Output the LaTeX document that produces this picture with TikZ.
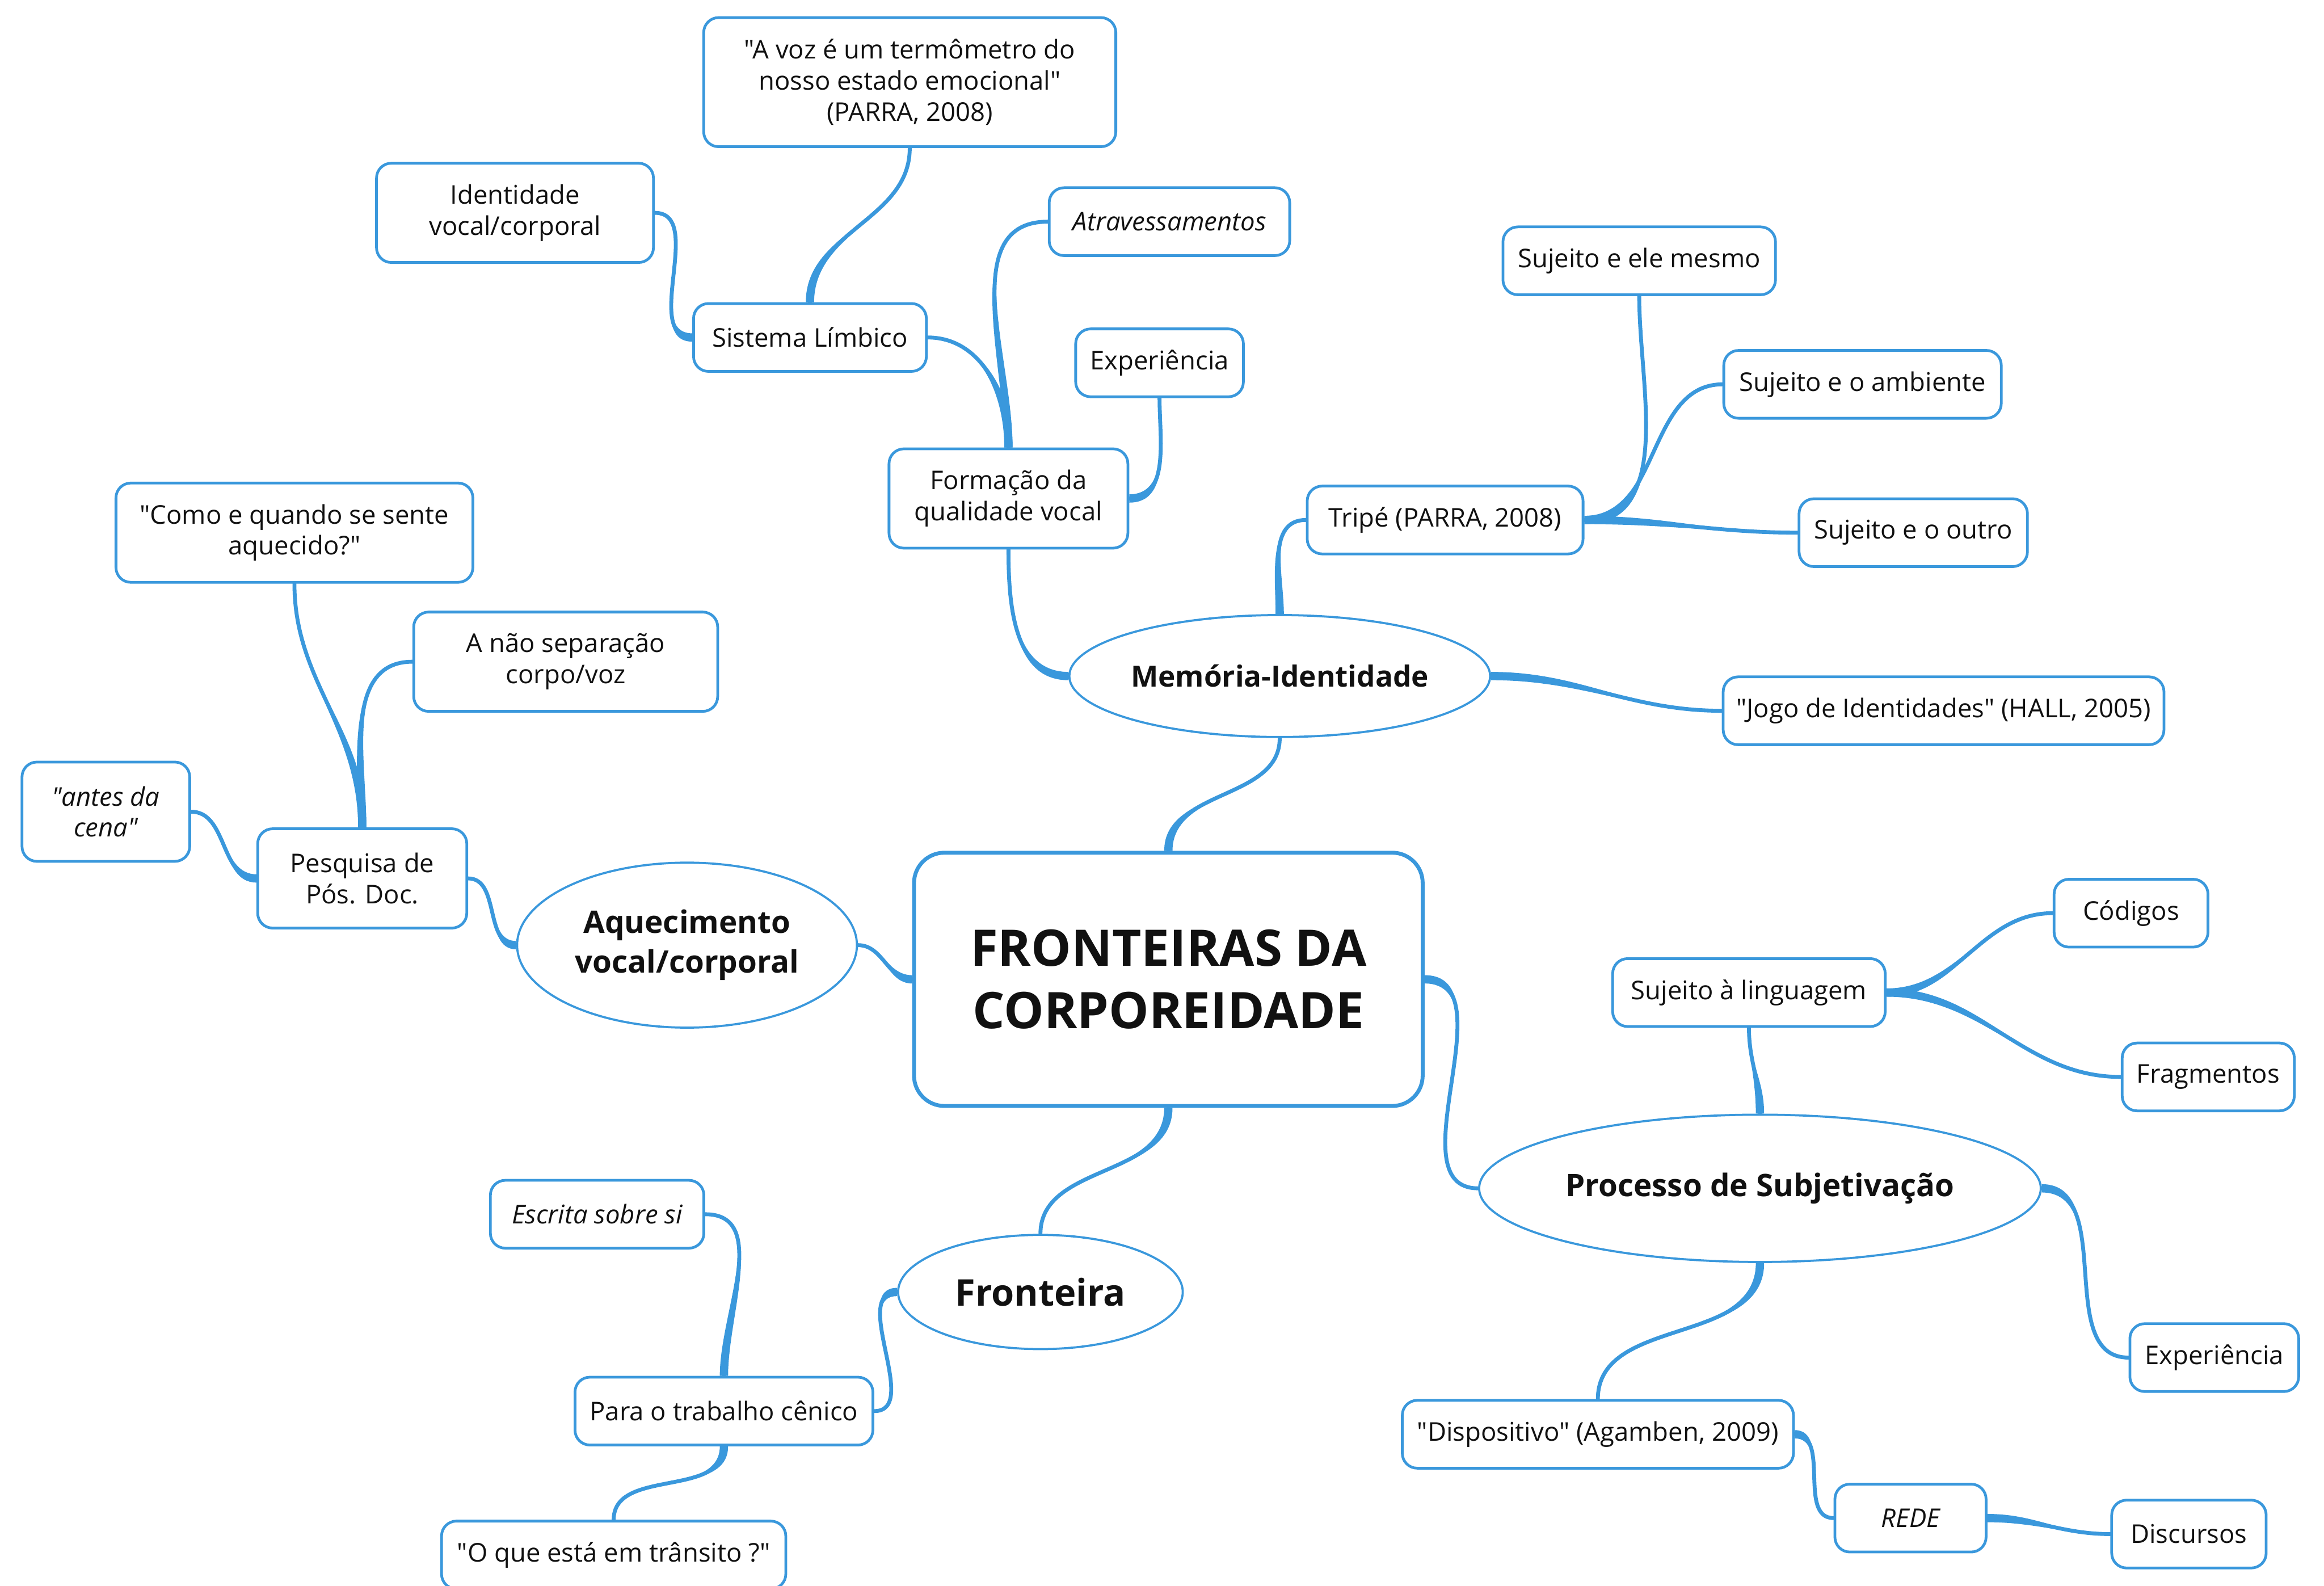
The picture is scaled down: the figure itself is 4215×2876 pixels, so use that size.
\documentclass[tikz,border=0pt]{standalone}
\usepackage{fontspec}
\setmainfont{Open Sans}[Ligatures=TeXOff]
\usepackage{xcolor}
\usepackage{tikz}
\usetikzlibrary{shapes.geometric}
\definecolor{MapBlue}{HTML}{3A98DC}
\definecolor{Ink}{HTML}{111111}

% tapered branch: parent anchor, out angle, in angle, child anchor
\newcommand{\branch}[4]{%
  \fill[MapBlue] ([shift={(#2+90:0.075cm)}]#1) to[out=#2, in=#3] (#4)
    to[out=#3, in=#2] ([shift={(#2-90:0.075cm)}]#1) -- cycle;
  \draw[link] (#1) to[out=#2, in=#3] (#4);
}

\begin{document}
\begin{tikzpicture}[x=0.01cm, y=-0.01cm,
  box/.style={draw=MapBlue, line width=1.4pt, rounded corners=0.27cm, fill=white, align=center, inner sep=0pt, minimum height=1.23cm, font=\fontsize{13.3}{16}\selectfont, text=Ink},
  tall/.style={minimum height=1.80cm},
  topic/.style={ellipse, draw=MapBlue, line width=1.1pt, fill=white, align=center, inner sep=0pt, font=\fontsize{15.5}{20.5}\selectfont\bfseries, text=Ink},
  core/.style={draw=MapBlue, line width=2pt, rounded corners=0.55cm, fill=white, align=center, inner sep=0pt, font=\fontsize{26}{32}\selectfont\bfseries, text=Ink},
  link/.style={draw=MapBlue, line width=2pt, line cap=round}
]
\useasboundingbox (0,0) rectangle (4215,2876);

\node[core, minimum width=9.22cm, minimum height=4.59cm] (core) at (2119,1776) {FRONTEIRAS DA\\CORPOREIDADE};

% Memoria-Identidade branch
\node[topic, minimum width=7.6cm, minimum height=2.21cm, font=\fontsize{15}{19}\selectfont\bfseries] (mem) at ([shift={(202,-550)}]core) {Memória-Identidade};
\node[box, tall, minimum width=4.33cm] (form) at ([shift={(-492,-322)}]mem) {Formação da\\qualidade vocal};
\node[box, minimum width=4.22cm] (sl) at ([shift={(-360,-292)}]form) {Sistema Límbico};
\node[box, minimum width=7.47cm, minimum height=2.34cm] (avoz) at ([shift={(181,-463)}]sl) {"A voz é um termômetro do\\nosso estado emocional"\\(PARRA, 2008)};
\node[box, tall, minimum width=5.02cm] (ident) at ([shift={(-535,-226)}]sl) {Identidade\\vocal/corporal};
\node[box, minimum width=4.36cm] (atrav) at ([shift={(292,-502)}]form) {\itshape Atravessamentos};
\node[box, minimum width=3.04cm] (exp1) at ([shift={(274,-246)}]form) {Experiência};
\node[box, minimum width=5.0cm] (tripe) at ([shift={(300,-283)}]mem) {Tripé (PARRA, 2008)};
\node[box, minimum width=4.94cm] (elem) at ([shift={(352,-470)}]tripe) {Sujeito e ele mesmo};
\node[box, minimum width=5.03cm] (amb) at ([shift={(757,-246)}]tripe) {Sujeito e o ambiente};
\node[box, minimum width=4.14cm] (outro) at ([shift={(849,23)}]tripe) {Sujeito e o outro};
\node[box, minimum width=7.99cm] (jogo) at ([shift={(1204,63)}]mem) {"Jogo de Identidades" (HALL, 2005)};

% Aquecimento branch
\node[topic, minimum width=6.16cm, minimum height=2.99cm, font=\fontsize{16}{20.5}\selectfont\bfseries] (aq) at ([shift={(-873,-62)}]core) {Aquecimento\\vocal/corporal};
\node[box, tall, minimum width=3.79cm] (pesq) at ([shift={(-589,-121)}]aq) {Pesquisa de\\Pós. Doc.};
\node[box, tall, minimum width=6.47cm] (como) at ([shift={(-123,-627)}]pesq) {"Como e quando se sente\\aquecido?"};
\node[box, tall, minimum width=5.51cm] (naosep) at ([shift={(369,-393)}]pesq) {A não separação\\corpo/voz};
\node[box, tall, minimum width=3.04cm] (antes) at ([shift={(-465,-121)}]pesq) {\itshape "antes da\\\itshape cena"};

% Fronteira branch
\node[topic, minimum width=5.16cm, minimum height=2.07cm, font=\fontsize{19}{23}\selectfont\bfseries] (fr) at ([shift={(-232,567)}]core) {Fronteira};
\node[box, minimum width=5.4cm] (para) at ([shift={(-574,216)}]fr) {Para o trabalho cênico};
\node[box, minimum width=3.87cm] (escrita) at ([shift={(-230,-357)}]para) {\itshape Escrita sobre si};
\node[box, minimum width=6.24cm] (oque) at ([shift={(-200,261)}]para) {"O que está em trânsito ?"};

% Processo de Subjetivacao branch
\node[topic, minimum width=10.18cm, minimum height=2.67cm, font=\fontsize{16}{20.5}\selectfont\bfseries] (proc) at ([shift={(1073,379)}]core) {Processo de Subjetivação};
\node[box, minimum width=4.94cm] (suj) at ([shift={(-20,-355)}]proc) {Sujeito à linguagem};
\node[box, minimum width=2.79cm] (cod) at ([shift={(693,-144)}]suj) {Códigos};
\node[box, minimum width=3.12cm] (frag) at ([shift={(833,153)}]suj) {Fragmentos};
\node[box, minimum width=3.06cm] (exp2) at ([shift={(824,307)}]proc) {Experiência};
\node[box, minimum width=7.09cm] (disp) at ([shift={(-294,446)}]proc) {"Dispositivo" (Agamben, 2009)};
\node[box, minimum width=2.74cm] (rede) at ([shift={(567,152)}]disp) {\itshape REDE};
\node[box, minimum width=2.8cm] (disc) at ([shift={(505,29)}]rede) {Discursos};

% links
\branch{core.north}{90}{-90}{mem.south}
\branch{mem.west}{180}{-90}{form.south}
\branch{form.north}{90}{0}{sl.east}
\branch{form.north}{90}{180}{atrav.west}
\branch{form.east}{0}{-90}{exp1.south}
\branch{sl.north}{90}{-90}{avoz.south}
\branch{sl.west}{180}{0}{ident.east}
\branch{mem.north}{90}{180}{tripe.west}
\branch{mem.east}{0}{180}{jogo.west}
\branch{tripe.east}{0}{-90}{elem.south}
\branch{tripe.east}{0}{180}{amb.west}
\branch{tripe.east}{0}{180}{outro.west}
\branch{core.west}{180}{0}{aq.east}
\branch{aq.west}{180}{0}{pesq.east}
\branch{pesq.north}{90}{-90}{como.south}
\branch{pesq.north}{90}{180}{naosep.west}
\branch{pesq.west}{180}{0}{antes.east}
\branch{core.south}{-90}{90}{fr.north}
\branch{fr.west}{180}{0}{para.east}
\branch{para.north}{90}{0}{escrita.east}
\branch{para.south}{-90}{90}{oque.north}
\branch{core.east}{0}{180}{proc.west}
\branch{proc.north}{90}{-90}{suj.south}
\branch{suj.east}{0}{180}{cod.west}
\branch{suj.east}{0}{180}{frag.west}
\branch{proc.east}{0}{180}{exp2.west}
\branch{proc.south}{-90}{90}{disp.north}
\branch{disp.east}{0}{180}{rede.west}
\branch{rede.east}{0}{180}{disc.west}
\end{tikzpicture}
\end{document}
